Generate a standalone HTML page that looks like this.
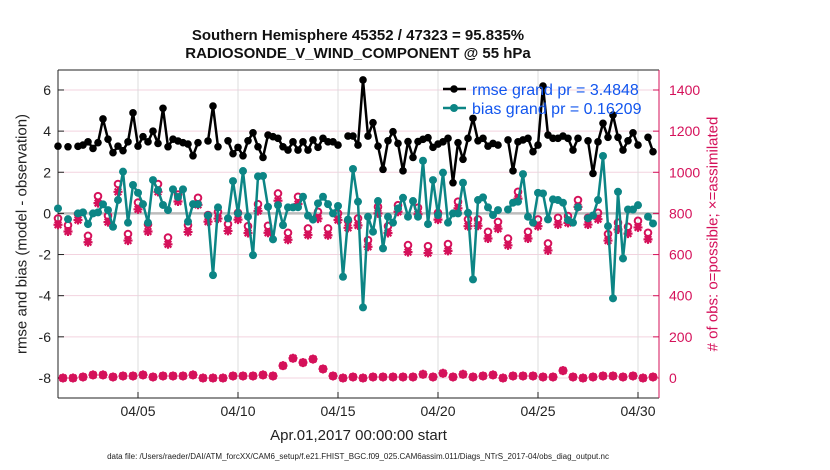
<!DOCTYPE html>
<html><head><meta charset="utf-8">
<style>
html,body{margin:0;padding:0;background:#fff;}
svg{display:block;font-family:"Liberation Sans",sans-serif;}
</style></head>
<body>
<svg id="chart" width="830" height="470" viewBox="0 0 830 470"></svg>
<script>
// ---- data (6-hourly from Apr.01,2017 00Z) ----
const dateTickLabels = ["04/05","04/10","04/15","04/20","04/25","04/30"];
const dateTickDays = [4,9,14,19,24,29];
const leftTicks = [-8,-6,-4,-2,0,2,4,6];
const rightTicks = [0,200,400,600,800,1000,1200,1400];
const rmse = [3.27,null,3.24,null,3.26,3.32,3.48,3.16,3.44,4.59,3.61,2.95,3.27,3.05,3.48,4.89,3.27,3.73,3.48,4.0,3.40,
5.11,3.24,3.61,3.52,3.44,3.37,2.8,3.44,null,3.52,5.22,3.24,null,3.53,2.9,3.21,2.8,3.53,3.92,3.24,
2.72,3.81,3.73,3.65,3.24,3.08,3.48,3.08,3.48,3.08,3.57,3.21,3.65,3.48,3.48,3.32,null,3.76,3.76,3.32,
6.49,3.76,4.41,3.27,2.14,3.53,3.97,3.4,2.07,3.49,2.72,3.49,3.6,3.68,3.21,3.37,3.48,3.65,1.49,3.44,
2.63,3.65,4.62,3.53,3.65,3.27,3.4,3.32,null,3.57,2.07,3.48,3.57,3.65,3.0,3.32,6.19,3.81,3.65,3.65,
3.76,3.65,3.08,3.65,null,3.53,1.94,3.48,4.38,3.7,4.78,3.7,3.08,3.53,3.92,3.32,null,3.7,3.0];
const bias = [0.24,null,-0.28,null,0,0.05,-0.52,0,0.05,0.44,0.16,-0.65,0.65,2.03,-0.45,1.38,1.0,0.45,-0.45,1.62,1.13,
0.41,0.16,1.17,0.8,1.17,-0.4,0.45,0.45,null,-0.1,-3.0,0.29,null,-0.24,1.57,0.0,2.06,-0.16,-2.03,1.8,
1.82,0.32,-1.26,0.4,-0.57,0.29,0.29,0.3,0.81,-0.11,-0.3,0.49,0.81,0.45,0,0.36,-3.08,-0.3,2.16,0.57,
-4.57,-0.16,-0.89,0.6,-1.7,-0.16,-0.45,0.24,0.76,-0.16,0.6,-0.16,2.56,-0.52,1.62,-0.08,1.98,-0.45,0,0,
1.49,0.03,-3.21,0.65,0.78,0.29,-0.08,0.16,null,0.19,0.52,0.57,1.91,-0.16,-0.45,1.0,0.97,-0.29,0.68,0.65,
0.52,-0.32,-0.45,0.3,null,-0.24,-0.1,0.65,2.79,-0.62,-4.13,1.05,-2.19,0.19,0.19,0.4,null,-0.16,-0.49];
const nPossible = [776,0,743,0,797,5,691,15,884,15,789,5,943,10,700,10,853,15,747,5,943,10,683,10,892,10,743,15,876,0,792,0,808,0,748,10,803,10,738,10,845,15,740,10,897,60,706,96,881,75,727,92,808,44,727,10,800,0,764,5,776,0,670,5,832,5,738,5,840,5,646,5,828,18,641,5,803,23,651,5,857,18,771,5,771,10,711,15,759,0,678,10,905,10,711,10,771,5,654,5,779,36,787,5,865,0,779,5,803,10,700,10,755,5,735,10,764,0,706,5];
const nAssim = [745,0,712,0,768,5,660,15,850,15,758,5,905,10,668,10,820,15,712,5,905,10,650,10,858,10,710,15,842,0,760,0,775,0,715,10,770,10,705,10,812,15,706,10,862,60,672,96,846,75,695,92,775,44,694,10,768,0,730,5,742,0,638,5,800,5,705,5,808,5,612,5,796,18,608,5,770,23,618,5,825,18,738,5,740,10,678,15,726,0,645,10,872,10,678,10,738,5,620,5,746,36,754,5,832,0,746,5,772,10,668,10,722,5,702,10,732,0,674,5];

// ---- axes ----
const X0=58, X1=659, Y0=70, Y1=398;
const xDay = d => X0 + d*20;
const xIdx = i => xDay(i*0.25);
const yL = v => 213.4 - 20.57*v;
const yR = c => 378 - 0.20571*c;
const NS="http://www.w3.org/2000/svg";
const svg=document.getElementById('chart');
function mk(tag, attrs, parent){const e=document.createElementNS(NS,tag);for(const k in attrs)e.setAttribute(k,attrs[k]);(parent||svg).appendChild(e);return e;}
const PINK="#d5115a", TEAL="#0c8585";

// grid
const grid=mk('g',{});


leftTicks.forEach(v=>{ if(v!==0) mk('line',{x1:X0,x2:X1,y1:yL(v),y2:yL(v),stroke:'#f3d3df','stroke-width':1},grid); });
dateTickDays.forEach(d=>{ mk('line',{x1:xDay(d),x2:xDay(d),y1:Y0,y2:Y1,stroke:'#dcdcdc','stroke-width':1},grid); });
const zl=mk('line',{x1:X0,x2:X1,y1:yL(0),y2:yL(0),stroke:'#bdbdbd','stroke-width':2.5});



// frame
const frame=mk('g',{});


mk('line',{x1:X0,x2:X1,y1:Y0,y2:Y0,stroke:'#222','stroke-width':1},frame);
mk('line',{x1:X0,x2:X1,y1:Y1,y2:Y1,stroke:'#222','stroke-width':1},frame);
mk('line',{x1:X0,x2:X0,y1:Y0,y2:Y1,stroke:'#222','stroke-width':1},frame);
mk('line',{x1:X1,x2:X1,y1:Y0,y2:Y1,stroke:PINK,'stroke-width':1},frame);

// left ticks
const lt=mk('g',{});


leftTicks.forEach(v=>{
  mk('line',{x1:X0,x2:X0+6,y1:yL(v),y2:yL(v),stroke:'#222'},lt);
  const t=mk('text',{x:X0-7,y:yL(v)+5,'text-anchor':'end','font-size':14,fill:'#222'},lt); t.textContent=v;
});
// right ticks
const rt=mk('g',{});


rightTicks.forEach(c=>{
  mk('line',{x1:X1-6,x2:X1,y1:yR(c),y2:yR(c),stroke:PINK},rt);
  const t=mk('text',{x:X1+10,y:yR(c)+5,'text-anchor':'start','font-size':14,fill:PINK},rt); t.textContent=c;
});
// x ticks
const xt=mk('g',{});


dateTickDays.forEach((d,k)=>{
  mk('line',{x1:xDay(d),x2:xDay(d),y1:Y1,y2:Y1-6,stroke:'#222'},xt);
  const t=mk('text',{x:xDay(d),y:416,'text-anchor':'middle','font-size':14,fill:'#222'},xt); t.textContent=dateTickLabels[k];
});

// series helpers
function drawLine(vals, color, name, w){
  let d='', pen=false;
  vals.forEach((v,i)=>{ if(v===null){pen=false;return;} d+=(pen?'L':'M')+xIdx(i).toFixed(1)+','+yL(v).toFixed(1); pen=true; });
  const p=mk('path',{d:d,fill:'none',stroke:color,'stroke-width':w,'stroke-linejoin':'round'});
  
  
}
function drawDots(vals,color,name,r){
  const g=mk('g',{});
  
  
  vals.forEach((v,i)=>{ if(v===null)return; mk('circle',{cx:xIdx(i),cy:yL(v),r:r,fill:color},g); });
}
// counts
const cg=mk('g',{});


nPossible.forEach((c,i)=>{
  const x=xIdx(i), y=yR(c);
  const o=mk('circle',{cx:x,cy:y,r:3.3,fill:'none',stroke:PINK,'stroke-width':2},cg);
  
  
});
nAssim.forEach((c,i)=>{
  const x=xIdx(i), y=yR(c), s=4.5, s2=3.3;
  const a=mk('path',{d:`M${x-s},${y}L${x+s},${y}M${x},${y-s}L${x},${y+s}M${x-s2},${y-s2}L${x+s2},${y+s2}M${x-s2},${y+s2}L${x+s2},${y-s2}`,stroke:PINK,'stroke-width':2.2,fill:'none'},cg);
  
  
});

drawLine(bias,TEAL,'bias-line',2.5);
drawDots(bias,TEAL,'bias-markers',4);
drawLine(rmse,'#000','rmse-line',2.5);
drawDots(rmse,'#000','rmse-markers',3.8);

// legend
const lg=mk('g',{});


mk('line',{x1:443,x2:466,y1:89,y2:89,stroke:'#000','stroke-width':2.5},lg);
mk('circle',{cx:454,cy:89,r:3.8,fill:'#000'},lg);
mk('line',{x1:443,x2:466,y1:108,y2:108,stroke:TEAL,'stroke-width':2.5},lg);
mk('circle',{cx:454,cy:108,r:4,fill:TEAL},lg);
const l1=mk('text',{x:472,y:95,'font-size':16,fill:'#1155ee'},lg); l1.textContent='rmse grand pr = 3.4848';


const l2=mk('text',{x:472,y:114,'font-size':16,fill:'#1155ee'},lg); l2.textContent='bias grand pr = 0.16209';


</script>
<svg width="0" height="0"></svg>
<div style="position:absolute;left:0;top:0;width:830px;height:470px;pointer-events:none;font-family:'Liberation Sans',sans-serif;">
  <div style="position:absolute;left:0;width:716px;top:27px;text-align:center;font-weight:bold;font-size:15px;color:#111;">Southern Hemisphere 45352 / 47323 = 95.835%</div>
  <div style="position:absolute;left:0;width:716px;top:45px;text-align:center;font-weight:bold;font-size:15px;color:#111;">RADIOSONDE_V_WIND_COMPONENT @ 55 hPa</div>
  <div style="position:absolute;left:22px;top:234px;width:0;height:0;">
    <div style="position:absolute;transform:translate(-50%,-50%) rotate(-90deg);white-space:nowrap;font-size:15px;color:#222;">rmse and bias (model - observation)</div></div>
  <div style="position:absolute;left:713px;top:234px;width:0;height:0;">
    <div style="position:absolute;transform:translate(-50%,-50%) rotate(-90deg);white-space:nowrap;font-size:15px;color:#d5115a;"># of obs: o=possible; ×=assimilated</div></div>
  <div style="position:absolute;left:58px;width:601px;top:427px;text-align:center;font-size:15px;color:#222;">Apr.01,2017 00:00:00 start</div>
  <div style="position:absolute;left:0;width:716px;top:452px;text-align:center;font-size:8px;color:#222;">data file: /Users/raeder/DAI/ATM_forcXX/CAM6_setup/f.e21.FHIST_BGC.f09_025.CAM6assim.011/Diags_NTrS_2017-04/obs_diag_output.nc</div>
</div>
</body></html>
